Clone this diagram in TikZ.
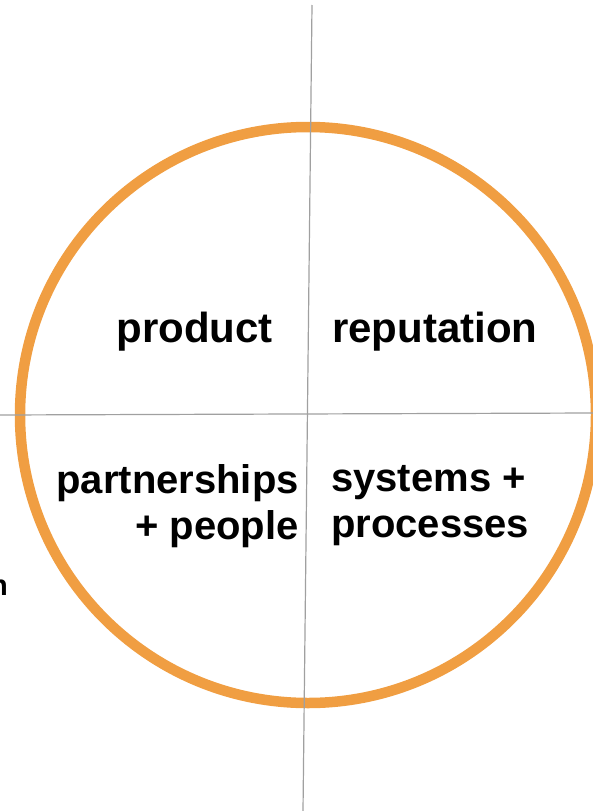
\documentclass[tikz,border=0pt]{standalone}
\usepackage{fontspec}
\setmainfont{Liberation Sans}
\usetikzlibrary{positioning}
\definecolor{ringorange}{RGB}{240,158,66}
\definecolor{axisgray}{RGB}{160,160,160}

\begin{document}
\begin{tikzpicture}[
            x = 1pt, y = -1pt, % pixel-like units, y downwards
            ring/.style = {draw = ringorange, line width = 10.5pt},
            axis/.style = {draw = axisgray, line width = 1.2pt},
            label/.style = {inner sep = 0pt, font = \fontsize{42}{47}\selectfont\bfseries},
            sublabel/.style = {inner sep = 0pt, font = \fontsize{40}{46}\selectfont\bfseries},
            small/.style = {inner sep = 0pt, font = \fontsize{29}{34}\selectfont\bfseries}
        ]

        \useasboundingbox (0,0) rectangle (593,811);

        % the ring
        \node[ring, circle, minimum size = 576pt, inner sep = 0pt] (ring) at (308,415) {};

        % axes
        \coordinate (top) at (312,5);
        \coordinate (bottom) at (303,811);
        \coordinate (left) at (0,415);
        \coordinate (right) at (593,413);
        \path[axis] (top) -- (bottom);
        \path[axis] (left) -- (right);

        % quadrant labels
        \node[label, anchor = base east] (product) at (273,342) {product};
        \node[label, anchor = base west] (reputation) at (332,342) {reputation};
        \node[sublabel, anchor = north east, align = right] (partners) at (299,464) {partnerships\\+ people};
        \node[sublabel, anchor = north west, align = left] (systems) at (331,465) {systems +\\processes};

        \node[small, anchor = base east] (cut) at (8,595) {n};
    \end{tikzpicture}
\end{document}
